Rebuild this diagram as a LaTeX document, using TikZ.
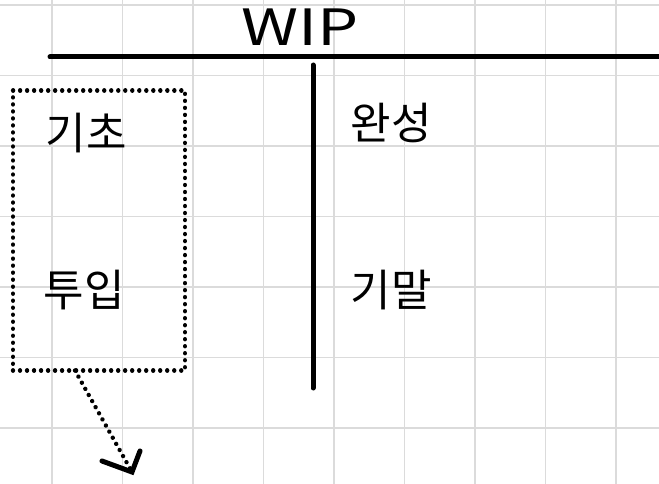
\documentclass[tikz,border=0pt]{standalone}
\usepackage{fontspec}
\newfontfamily\kr{Noto Sans CJK KR}
\begin{document}
\begin{tikzpicture}[x=1pt,y=-1pt,
  gridline/.style={draw=black!14,line width=1.4pt},
  heavy/.style={line width=5pt,line cap=round},
  dotline/.style={line width=4.4pt,line cap=round,dash pattern=on 0.01pt off 7pt},
  lbl/.style={font=\kr\fontsize{44}{44}\selectfont,inner sep=0pt},
  title/.style={font=\kr\fontsize{50}{50}\selectfont,inner sep=0pt,xscale=1.3}]
\useasboundingbox (0,0) rectangle (659,484);
\fill[white] (0,0) rectangle (659,484);
% grid
\foreach \gx in {52,122.5,193,263.5,334,404.5,475,545.5,616}
  \draw[gridline] (\gx,0) -- (\gx,484);
\foreach \gy in {5,75.5,146,216.5,287,357.5,428}
  \draw[gridline] (0,\gy) -- (659,\gy);
% T-account
\coordinate (hl) at (50,57);
\coordinate (hr) at (662,57);
\coordinate (vt) at (313,65);
\coordinate (vb) at (313,388);
\draw[heavy] (hl) -- (hr);
\draw[heavy] (vt) -- (vb);
\node[title] (wip) at (300,27) {WIP};
\node[lbl] (kicho) at (86,133) {기초};
\node[lbl] (tuip) at (84,290) {투입};
\node[lbl] (wanseong) at (391,123) {완성};
\node[lbl] (kimal) at (391,290) {기말};
% dotted box
\node[draw,dotline,minimum width=172pt,minimum height=280pt,inner sep=0pt] (box) at (99,230.5) {};
\coordinate (astart) at (75,370.5);
\coordinate (tip) at (132,472);
\coordinate (barbA) at (102,461);
\coordinate (barbB) at (140,451);
\draw[dotline] (astart) -- (tip);
\draw[heavy] (barbA) -- (tip) -- (barbB);
\end{tikzpicture}
\end{document}
